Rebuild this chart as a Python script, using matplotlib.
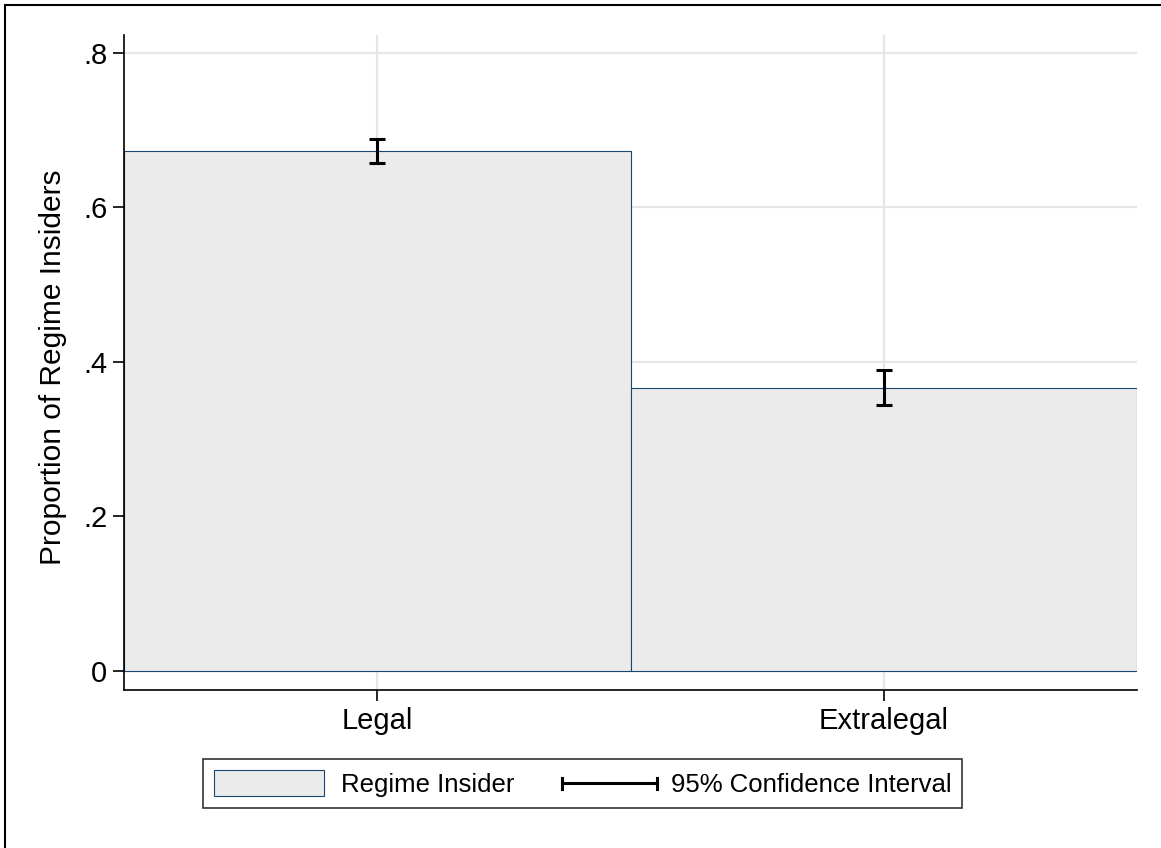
#!/usr/bin/env python3

import matplotlib
matplotlib.use("Agg")
import matplotlib.pyplot as plt
from matplotlib.legend_handler import HandlerBase
from matplotlib.lines import Line2D
from matplotlib.patches import Patch, Rectangle

# proportions of regime insiders by type of leader entry, with 95% CIs
groups = ["Legal", "Extralegal"]
props = [0.673, 0.366]
ci_low = [0.657, 0.344]
ci_high = [0.689, 0.389]
yticks = [0, 0.2, 0.4, 0.6, 0.8]
ytick_labels = ["0", ".2", ".4", ".6", ".8"]

plt.rcParams["font.family"] = ["Liberation Sans", "DejaVu Sans"]

bar_fill = "#ebebeb"
bar_edge = "#1a476f"
grid_col = "#e6e6e6"


class HandlerCap(HandlerBase):
    # horizontal capped line for the CI entry in the legend
    def create_artists(self, legend, orig_handle, xdescent, ydescent,
                       width, height, fontsize, trans):
        y = height / 2 - ydescent
        x0 = -xdescent + 0.173 * width
        x1 = -xdescent + 1.036 * width
        h = height * 0.42
        lines = [
            Line2D([x0, x1], [y, y]),
            Line2D([x0, x0], [y - h / 2, y + h / 2]),
            Line2D([x1, x1], [y - h / 2, y + h / 2]),
        ]
        for ln in lines:
            ln.set_color("black")
            ln.set_linewidth(2.2)
            ln.set_transform(trans)
        return lines


class CIKey:
    pass


f = plt.figure(figsize=(11.61, 8.48), dpi=100)
ax = f.add_axes([124 / 1161, 158 / 848, 1013 / 1161, 655 / 848])

xpos = list(range(1, len(groups) + 1))
ax.bar(xpos, props, width=1.0, color=bar_fill, edgecolor=bar_edge,
       linewidth=0.8, zorder=2)

err = [[p - lo for p, lo in zip(props, ci_low)],
       [hi - p for p, hi in zip(props, ci_high)]]
ax.errorbar(xpos, props, yerr=err, fmt="none", ecolor="black",
            elinewidth=2.2, capsize=5.5, capthick=2.2, zorder=3)

ax.set_xlim(0.5, len(groups) + 0.5)
ax.set_ylim(-0.0246, 0.8233)
ax.set_xticks(xpos)
ax.set_xticklabels(groups)
ax.set_yticks(yticks)
ax.set_yticklabels(ytick_labels)

ax.grid(True, color=grid_col, linewidth=1.6, zorder=0)
ax.set_axisbelow(True)

for side in ["top", "right"]:
    ax.spines[side].set_visible(False)
for side in ["left", "bottom"]:
    ax.spines[side].set_linewidth(1.2)
    ax.spines[side].set_color("black")

ax.tick_params(axis="both", length=8, width=1.2, labelsize=21, pad=4)
ax.set_ylabel("Proportion of Regime Insiders", fontsize=21.5)
ax.yaxis.set_label_coords(-0.0565, 0.4925)

leg = f.legend([Patch(facecolor=bar_fill, edgecolor=bar_edge, linewidth=0.8),
                CIKey()],
               ["Regime Insider", "95% Confidence Interval"],
               handler_map={CIKey: HandlerCap()},
               loc="center", bbox_to_anchor=(582.5 / 1161, 1 - 783.5 / 848),
               ncol=2, fontsize=18.5, frameon=True, fancybox=False,
               handlelength=4.28, handleheight=1.17, columnspacing=1.09,
               handletextpad=0.70, borderpad=0.42)
leg.get_frame().set_edgecolor("black")
leg.get_frame().set_linewidth(1.2)

# outer frame line along the top and left edge
f.patches.append(Rectangle((4.5 / 1161, -0.1), 1.2, 1.1 - 5.5 / 848,
                           transform=f.transFigure, fill=False,
                           edgecolor="black", linewidth=1.5))

f.savefig("out.png", dpi=100)
